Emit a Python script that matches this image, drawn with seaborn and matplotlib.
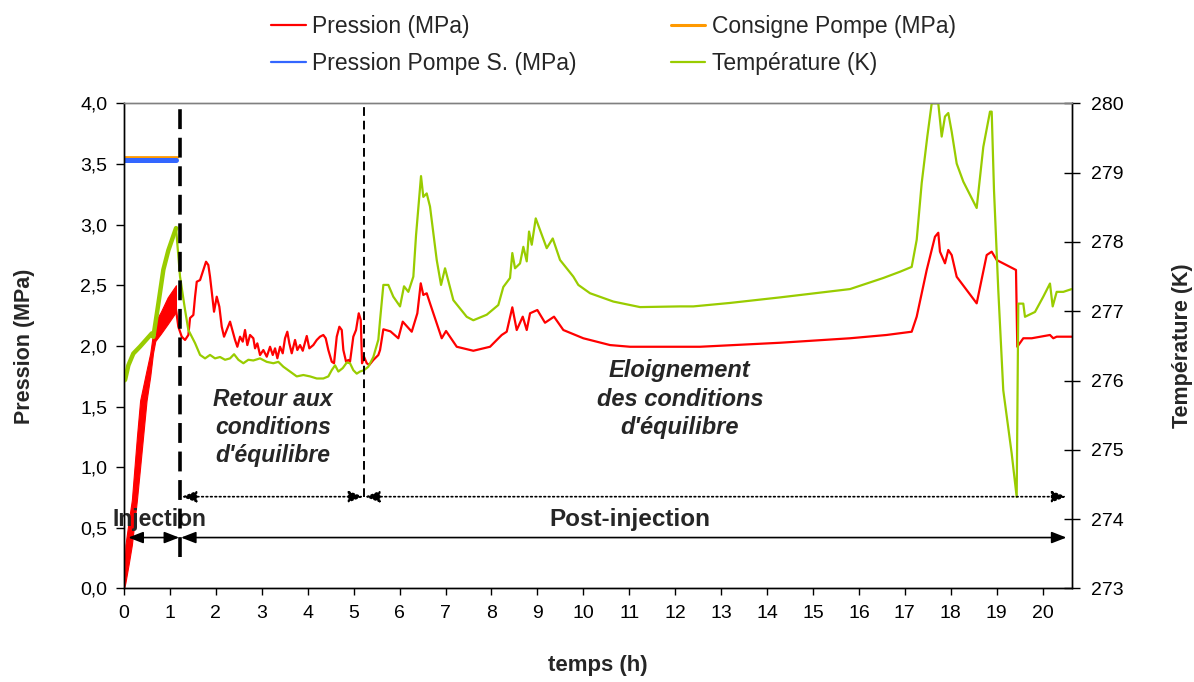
import matplotlib
matplotlib.use("Agg")
import matplotlib.pyplot as plt
import seaborn as sns
from matplotlib.lines import Line2D
from matplotlib.ticker import FuncFormatter, MultipleLocator

# ---- data -------------------------------------------------------------
# Injection phase: the pressure oscillates quickly, drawn as an envelope
inj_t = [0.0, 0.03, 0.10, 0.17, 0.28, 0.35, 0.49, 0.57, 0.63, 0.68, 0.80, 0.95, 1.13]
inj_p_low = [0.00, 0.05, 0.20, 0.36, 0.73, 1.00, 1.55, 1.75, 1.94, 2.04, 2.10, 2.18, 2.28]
inj_p_high = [0.05, 0.36, 0.55, 0.73, 1.25, 1.55, 1.80, 1.94, 2.10, 2.20, 2.28, 2.40, 2.50]

# Cell pressure (MPa) after injection
press_t = [1.132, 1.182, 1.256, 1.328, 1.400, 1.437, 1.509, 1.546, 1.583, 1.655,
           1.727, 1.785, 1.835, 1.872, 1.909, 1.959, 2.018, 2.075, 2.127, 2.177,
           2.236, 2.308, 2.367, 2.417, 2.467, 2.526, 2.584, 2.634, 2.684, 2.743,
           2.815, 2.852, 2.902, 2.961, 3.033, 3.107, 3.179, 3.238, 3.288, 3.338,
           3.397, 3.455, 3.505, 3.555, 3.599, 3.651, 3.723, 3.773, 3.832, 3.891,
           3.978, 4.034, 4.121, 4.196, 4.267, 4.339, 4.391, 4.448, 4.522, 4.572,
           4.631, 4.688, 4.740, 4.775, 4.834, 4.884, 4.920, 4.992, 5.051, 5.110,
           5.154, 5.182, 5.225, 5.284, 5.341, 5.428, 5.537, 5.574, 5.646, 5.800,
           5.972, 6.068, 6.264, 6.386, 6.460, 6.516, 6.590, 6.662, 6.917, 7.011,
           7.244, 7.605, 7.969, 8.223, 8.332, 8.454, 8.550, 8.681, 8.768, 8.840,
           8.999, 9.166, 9.362, 9.565, 10.000, 10.581, 11.017, 12.541, 14.283, 15.807,
           16.600, 17.150, 17.259, 17.477, 17.657, 17.729, 17.766, 17.875, 17.947, 18.021,
           18.130, 18.565, 18.783, 18.892, 19.001, 19.421, 19.436, 19.449, 19.580, 19.763,
           20.161, 20.233, 20.307, 20.634]
press_p = [2.296, 2.158, 2.076, 2.049, 2.090, 2.230, 2.255, 2.406, 2.529, 2.543,
           2.626, 2.694, 2.667, 2.570, 2.447, 2.282, 2.406, 2.323, 2.158, 2.076,
           2.131, 2.200, 2.117, 2.049, 1.993, 2.076, 2.035, 2.131, 2.007, 2.090,
           2.063, 1.980, 2.021, 1.925, 1.966, 1.911, 1.993, 1.925, 1.980, 1.898,
           1.993, 1.939, 2.063, 2.117, 2.021, 1.939, 2.049, 1.966, 2.007, 1.960,
           2.082, 1.980, 2.007, 2.049, 2.076, 2.090, 2.063, 1.966, 1.870, 1.857,
           2.076, 2.158, 2.131, 1.966, 1.870, 1.884, 1.870, 2.076, 2.131, 2.269,
           2.214, 1.857, 1.911, 1.857, 1.843, 1.884, 1.925, 1.966, 2.137, 2.120,
           2.063, 2.200, 2.117, 2.269, 2.516, 2.420, 2.434, 2.351, 2.063, 2.123,
           1.993, 1.960, 1.993, 2.090, 2.117, 2.318, 2.131, 2.241, 2.131, 2.269,
           2.296, 2.191, 2.241, 2.131, 2.063, 2.007, 1.993, 1.993, 2.026, 2.063,
           2.090, 2.117, 2.241, 2.626, 2.900, 2.933, 2.777, 2.681, 2.791, 2.749,
           2.570, 2.351, 2.749, 2.777, 2.708, 2.626, 2.282, 1.993, 2.063, 2.063,
           2.090, 2.063, 2.076, 2.076]

# Temperature (K)
temp_t = [0.000, 0.022, 0.094, 0.202, 0.348, 0.603, 0.638, 0.747, 0.856, 0.965,
          1.132, 1.219, 1.328, 1.400, 1.546, 1.655, 1.764, 1.872, 1.981, 2.090,
          2.199, 2.308, 2.395, 2.489, 2.598, 2.706, 2.815, 2.961, 3.107, 3.251,
          3.360, 3.468, 3.614, 3.760, 3.904, 4.050, 4.196, 4.339, 4.448, 4.522,
          4.594, 4.666, 4.762, 4.849, 4.920, 4.992, 5.066, 5.138, 5.225, 5.319,
          5.428, 5.537, 5.574, 5.646, 5.754, 5.863, 6.009, 6.096, 6.190, 6.299,
          6.358, 6.466, 6.516, 6.590, 6.662, 6.808, 6.902, 6.989, 7.170, 7.461,
          7.605, 7.897, 8.149, 8.258, 8.404, 8.454, 8.513, 8.622, 8.694, 8.768,
          8.818, 8.877, 8.964, 9.042, 9.203, 9.334, 9.493, 9.782, 9.891, 10.146,
          10.653, 11.235, 12.105, 12.395, 13.194, 14.283, 15.807, 16.532, 16.895, 17.150,
          17.259, 17.368, 17.490, 17.586, 17.729, 17.803, 17.875, 17.947, 18.021, 18.130,
          18.274, 18.565, 18.709, 18.855, 18.892, 18.942, 19.035, 19.144, 19.327, 19.436,
          19.471, 19.580, 19.617, 19.835, 20.015, 20.161, 20.220, 20.307, 20.452, 20.634]
temp_k = [276.00, 276.01, 276.22, 276.39, 276.49, 276.68, 276.63, 277.11, 277.60, 277.88,
          278.20, 277.50, 277.02, 276.73, 276.54, 276.37, 276.32, 276.37, 276.32, 276.34,
          276.30, 276.32, 276.38, 276.30, 276.25, 276.30, 276.29, 276.32, 276.27, 276.25,
          276.27, 276.20, 276.13, 276.06, 276.08, 276.06, 276.03, 276.03, 276.06, 276.15,
          276.22, 276.13, 276.18, 276.26, 276.25, 276.15, 276.10, 276.13, 276.15, 276.20,
          276.34, 276.59, 276.87, 277.38, 277.38, 277.21, 277.07, 277.36, 277.28, 277.50,
          278.10, 278.95, 278.65, 278.70, 278.51, 277.74, 277.38, 277.62, 277.16, 276.92,
          276.87, 276.95, 277.09, 277.35, 277.48, 277.84, 277.62, 277.69, 277.93, 277.72,
          278.15, 277.96, 278.34, 278.20, 277.91, 278.05, 277.74, 277.50, 277.38, 277.26,
          277.14, 277.06, 277.07, 277.07, 277.12, 277.20, 277.32, 277.48, 277.57, 277.64,
          278.03, 278.85, 279.52, 280.00, 280.00, 279.52, 279.81, 279.86, 279.59, 279.13,
          278.87, 278.49, 279.37, 279.88, 279.88, 278.75, 277.31, 275.86, 274.95, 274.32,
          277.11, 277.11, 276.92, 276.99, 277.21, 277.40, 277.07, 277.28, 277.28, 277.32]

# Pump pressure and pump set point during injection (MPa)
pump_t = [0.0, 1.13]
pump_p = [3.53, 3.53]
setpoint_t = [0.0, 1.16]
setpoint_p = [3.555, 3.555]

# Phase boundaries (h) and annotation levels (MPa)
t_end_injection = 1.22
t_end_return = 5.225
phase_arrow_p = 0.42
sub_arrow_p = 0.757

legend_labels = ["Pression (MPa)", "Pression Pompe S. (MPa)",
                 "Consigne Pompe (MPa)", "Température (K)"]

# ---- style ------------------------------------------------------------
RED = "#FF0000"
BLUE = "#3366FF"
ORANGE = "#FF9900"
GREEN = "#99CC00"

sns.set_style("white")
plt.rcParams["font.family"] = ["Liberation Sans", "DejaVu Sans"]

P_MAX = 4.0
T_MIN, T_MAX = 273, 280
T_END = 20.64

fig = plt.figure(figsize=(11.94, 6.82), dpi=100)
ax = fig.add_axes([0.1039, 0.1371, 0.8978 - 0.1039, 0.8485 - 0.1371])
ax2 = ax.twinx()

# ---- pressure axis ----------------------------------------------------
ax.fill_between(inj_t, inj_p_low, inj_p_high, color=RED, lw=0.8)
sns.lineplot(x=press_t, y=press_p, ax=ax, color=RED, linewidth=1.6,
             sort=False, estimator=None, legend=False)
sns.lineplot(x=setpoint_t, y=setpoint_p, ax=ax, color=ORANGE, linewidth=2.0,
             sort=False, estimator=None, legend=False)
sns.lineplot(x=pump_t, y=pump_p, ax=ax, color=BLUE, linewidth=3.6,
             sort=False, estimator=None, legend=False)

# ---- temperature axis -------------------------------------------------
sns.lineplot(x=temp_t, y=temp_k, ax=ax2, color=GREEN, linewidth=1.6,
             sort=False, estimator=None, legend=False)
inj_n = sum(1 for t in temp_t if t <= inj_t[-1] + 0.01)
sns.lineplot(x=temp_t[:inj_n], y=temp_k[:inj_n], ax=ax2, color=GREEN,
             linewidth=3.2, sort=False, estimator=None, legend=False)

ax.set_xlim(0, T_END)
ax.set_ylim(0, P_MAX)
ax2.set_ylim(T_MIN, T_MAX)

comma = FuncFormatter(lambda v, _: f"{v:.1f}".replace(".", ","))
ax.yaxis.set_major_locator(MultipleLocator(0.5))
ax.yaxis.set_major_formatter(comma)
ax.xaxis.set_major_locator(MultipleLocator(1))
ax2.yaxis.set_major_locator(MultipleLocator(1))

ax.tick_params(axis="y", direction="out", length=6, width=1, pad=6,
               labelsize=14, left=True, colors="black")
ax.tick_params(axis="x", direction="out", length=5, width=1, pad=7,
               labelsize=14, bottom=True, colors="black")
ax2.tick_params(axis="y", direction="inout", length=12, width=1, pad=8,
                labelsize=14, right=True, colors="black")

for a in (ax, ax2):
    for side in ("left", "right", "bottom"):
        a.spines[side].set_color("black")
        a.spines[side].set_linewidth(1.0)
    a.spines["top"].set_color("#808080")
    a.spines["top"].set_linewidth(1.0)
    a.grid(False)

ax.set_xlabel("temps (h)", fontsize=16, fontweight="bold")
ax.set_ylabel("Pression (MPa)", fontsize=15.5, fontweight="bold")
ax2.set_ylabel("Température (K)", fontsize=15.5, fontweight="bold", rotation=90)
ax.xaxis.set_label_coords(0.5, -0.137)
ax.yaxis.set_label_coords(-0.094, 0.5)
ax2.yaxis.set_label_coords(1.106, 0.5)

# ---- phase markers ----------------------------------------------------
ax2.axvline(t_end_injection, ymin=0.26 / P_MAX, ymax=1, color="black",
            lw=2.6, dashes=(5.5, 2.4))
ax2.axvline(t_end_return, ymin=sub_arrow_p / P_MAX, ymax=1, color="black",
            lw=1.4, dashes=(4.5, 2.5))

def span_arrow(t0, t1, p, style):
    ax2.annotate("", xy=(t1, p), xytext=(t0, p), xycoords=ax.transData,
                 textcoords=ax.transData,
                 arrowprops=dict(arrowstyle="<|-|>,head_length=0.9,head_width=0.35",
                                 color="black", lw=1.2, linestyle=style,
                                 shrinkA=0, shrinkB=0))

span_arrow(0.094, t_end_injection - 0.02, phase_arrow_p, "-")
span_arrow(t_end_injection + 0.02, 20.52, phase_arrow_p, "-")
span_arrow(1.256, t_end_return - 0.015, sub_arrow_p, ":")
span_arrow(t_end_return + 0.02, 20.52, sub_arrow_p, ":")

ax.text(0.78, 0.565, "Injection", ha="center", va="center",
        fontsize=16.5, fontweight="bold")
ax.text(11.02, 0.565, "Post-injection", ha="center", va="center",
        fontsize=17.5, fontweight="bold")
ax.text(3.24, 1.327, "Retour aux\nconditions\nd'équilibre", ha="center",
        va="center", fontsize=16.5, fontweight="bold", fontstyle="italic",
        linespacing=1.3)
ax.text(12.1, 1.56, "Eloignement\ndes conditions\nd'équilibre", ha="center",
        va="center", fontsize=17, fontweight="bold", fontstyle="italic",
        linespacing=1.3)

# ---- legend -----------------------------------------------------------
handles = [Line2D([], [], color=RED, lw=1.6),
           Line2D([], [], color=BLUE, lw=1.6),
           Line2D([], [], color=ORANGE, lw=2.2),
           Line2D([], [], color=GREEN, lw=1.6)]
fig.legend(handles, legend_labels, ncol=2, loc="center",
           bbox_to_anchor=(0.514, 0.934), frameon=False, fontsize=16.5,
           handlelength=1.5, handletextpad=0.3, columnspacing=4.1,
           labelspacing=0.65)

fig.savefig("out.png", dpi=100)
